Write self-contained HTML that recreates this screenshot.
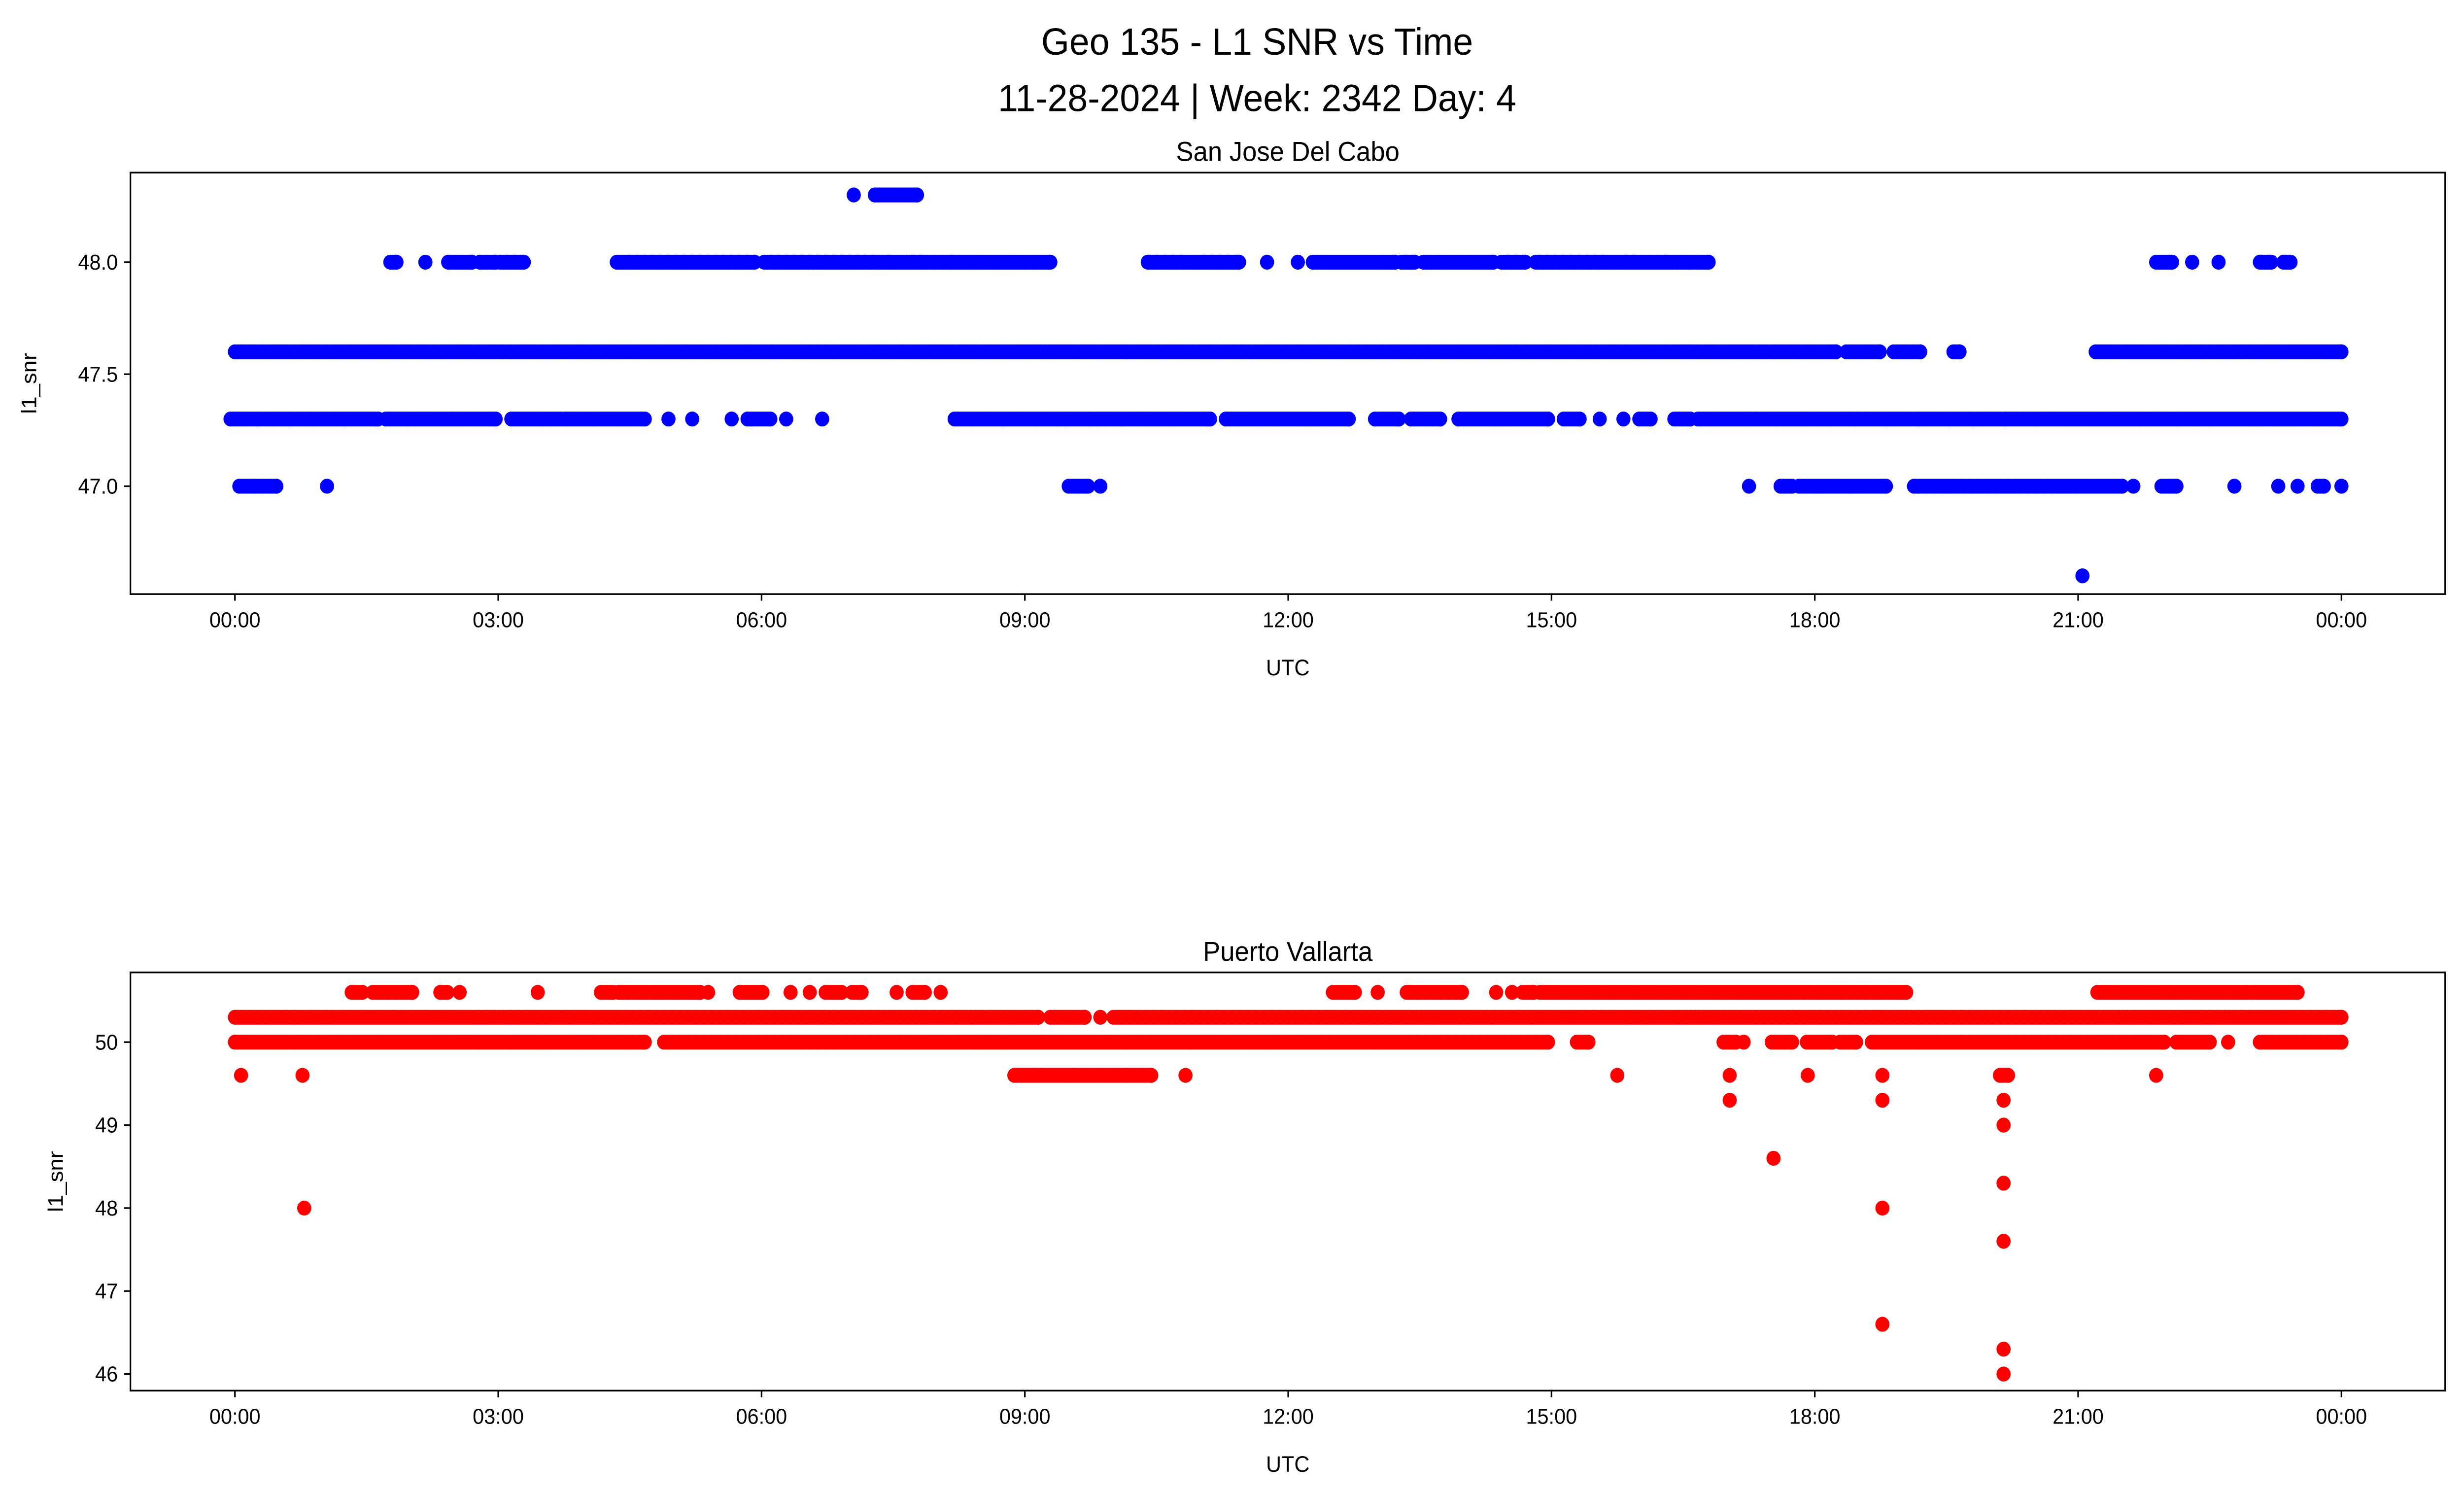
<!DOCTYPE html>
<html><head><meta charset="utf-8"><style>
html,body{margin:0;padding:0;background:#fff;width:100vw;height:100vh;overflow:hidden}
svg{display:block;position:absolute;left:0;top:0;width:100vw;height:100vh}
text{font-family:"Liberation Sans","DejaVu Sans",sans-serif;fill:#000}
</style></head><body>
<svg id="chart" viewBox="0 0 1568 900.9" preserveAspectRatio="none" xmlns="http://www.w3.org/2000/svg">
<text x="800" y="33" font-size="23" text-anchor="middle">Geo 135 - L1 SNR vs Time</text>
<text x="800" y="67" font-size="23" text-anchor="middle">11-28-2024 | Week: 2342 Day: 4</text>
<g id="p1"></g>
<g id="p2"></g>
</svg>
<script>
const xTickLabels = ["00:00","03:00","06:00","09:00","12:00","15:00","18:00","21:00","00:00"];
const xTickHours = [0,3,6,9,12,15,18,21,24];

const topLevels = [48.3,48.0,47.6,47.3,47.0,46.6];
const topRuns = [
 [[7.05,7.05],[7.29,7.77]],
 [[1.77,1.84],[2.17,2.17],[2.43,2.7],[2.79,2.97],[3.02,3.29],[4.35,5.92],[6.03,9.29],[10.4,11.44],[11.76,11.76],[12.11,12.11],[12.28,13.22],[13.29,13.44],[13.54,14.34],[14.43,14.7],[14.82,16.79],[21.89,22.07],[22.3,22.3],[22.6,22.6],[23.07,23.2],[23.34,23.42]],
 [[0,18.24],[18.36,18.74],[18.9,19.2],[19.58,19.65],[21.2,24]],
 [[-0.05,1.63],[1.72,2.97],[3.15,4.67],[4.94,4.94],[5.21,5.21],[5.66,5.66],[5.84,6.1],[6.28,6.28],[6.69,6.69],[8.2,11.11],[11.29,12.69],[12.99,13.26],[13.4,13.73],[13.94,14.96],[15.14,15.32],[15.55,15.55],[15.82,15.82],[16.0,16.13],[16.4,16.58],[16.67,24]],
 [[0.05,0.47],[1.05,1.05],[9.5,9.72],[9.86,9.86],[17.25,17.25],[17.61,17.74],[17.82,18.81],[19.13,21.5],[21.63,21.63],[21.95,22.12],[22.78,22.78],[23.28,23.28],[23.5,23.5],[23.73,23.8],[24,24]],
 [[21.05,21.05]]
];
const topYTicks = [47.0,47.5,48.0];
const topYTickLabels = ["47.0","47.5","48.0"];

const botLevels = [50.6,50.3,50.0,49.6,49.3,49.0,48.6,48.3,48.0,47.6,46.6,46.3,46.0];
const botRuns = [
 [[1.33,1.45],[1.57,2.02],[2.34,2.42],[2.56,2.56],[3.45,3.45],[4.17,4.31],[4.37,5.3],[5.39,5.39],[5.75,6.01],[6.33,6.33],[6.55,6.55],[6.73,6.91],[7.03,7.14],[7.54,7.54],[7.72,7.86],[8.04,8.04],[12.51,12.76],[13.02,13.02],[13.35,13.98],[14.37,14.37],[14.55,14.55],[14.67,14.8],[14.87,19.04],[21.22,23.5]],
 [[0,9.15],[9.29,9.68],[9.86,9.86],[10.01,24]],
 [[0,4.67],[4.89,14.96],[15.29,15.42],[16.96,17.1],[17.19,17.19],[17.51,17.74],[17.91,18.2],[18.29,18.47],[18.65,21.98],[22.12,22.5],[22.71,22.71],[23.07,24]],
 [[0.07,0.07],[0.77,0.77],[8.88,10.44],[10.83,10.83],[15.75,15.75],[17.03,17.03],[17.92,17.92],[18.77,18.77],[20.11,20.2],[21.89,21.89]],
 [[17.03,17.03],[18.77,18.77],[20.15,20.15]],
 [[20.15,20.15]],
 [[17.53,17.53]],
 [[20.15,20.15]],
 [[0.79,0.79],[18.77,18.77]],
 [[20.15,20.15]],
 [[18.77,18.77]],
 [[20.15,20.15]],
 [[20.15,20.15]]
];
const botYTicks = [46,47,48,49,50];
const botYTickLabels = ["46","47","48","49","50"];

const NS="http://www.w3.org/2000/svg";
function mk(tag,attrs,parent){const e=document.createElementNS(NS,tag);for(const k in attrs)e.setAttribute(k,attrs[k]);parent.appendChild(e);return e;}

function panel(g,cfg){
  const {left,right,top,bottom,yMin,yMax,title,levels,runs,color,yTicks,yLabels}=cfg;
  const xS=h=>149.5+(h/24)*1340.5;
  const yS=v=>bottom-(v-yMin)/(yMax-yMin)*(bottom-top);
  const t=mk('text',{x:(left+right)/2,y:top-7,'font-size':16.5,'text-anchor':'middle'},g);
  t.textContent=title;
  
  
  const pts=mk('g',{fill:color},g);
  
  
  levels.forEach((lv,i)=>{
    runs[i].forEach(r=>{
      for(let h=r[0];h<=r[1]+1e-6;h+=0.03){
        mk('circle',{cx:xS(h).toFixed(1),cy:yS(lv).toFixed(1),r:4.5},pts);
      }
      if(r[1]-r[0]>0.03) mk('circle',{cx:xS(r[1]).toFixed(1),cy:yS(lv).toFixed(1),r:4.5},pts);
    });
  });
  const frame=mk('rect',{x:left,y:top,width:right-left,height:bottom-top,fill:'none',stroke:'#000','stroke-width':1},g);
  
  
  xTickHours.forEach((h,i)=>{
    const x=xS(h);
    mk('line',{x1:x,y1:bottom,x2:x,y2:bottom+4,stroke:'#000','stroke-width':1},g);
    const tl=mk('text',{x:x,y:bottom+20,'font-size':13,'text-anchor':'middle'},g);
    tl.textContent=xTickLabels[i];
    
    
  });
  yTicks.forEach((v,i)=>{
    const y=yS(v);
    mk('line',{x1:left-4,y1:y,x2:left,y2:y,stroke:'#000','stroke-width':1},g);
    const tl=mk('text',{x:left-8,y:y+4.5,'font-size':13,'text-anchor':'end'},g);
    tl.textContent=yLabels[i];
    
    
  });
  const xl=mk('text',{x:(left+right)/2,y:bottom+49,'font-size':13.5,'text-anchor':'middle'},g);
  xl.textContent='UTC';
  
  
  const cy=(top+bottom)/2;
  const yl=mk('text',{x:cfg.yLabelX,y:cy,'font-size':13.5,'text-anchor':'middle',transform:`rotate(-90 ${cfg.yLabelX} ${cy})`},g);
  yl.textContent='l1_snr';
  
  
}
panel(document.getElementById('p1'),{left:83,right:1556,top:104,bottom:358,yMin:46.6-(358-347)/135,yMax:46.6-(358-347)/135+(358-104)/135,
  title:'San Jose Del Cabo',levels:topLevels,runs:topRuns,color:'#0000ff',yTicks:topYTicks,yLabels:topYTickLabels,yLabelX:23});
panel(document.getElementById('p2'),{left:83,right:1556,top:586,bottom:838,yMin:50-(838-628)/50,yMax:50-(838-628)/50+(838-586)/50,
  title:'Puerto Vallarta',levels:botLevels,runs:botRuns,color:'#ff0000',yTicks:botYTicks,yLabels:botYTickLabels,yLabelX:40});
</script>
</body></html>
